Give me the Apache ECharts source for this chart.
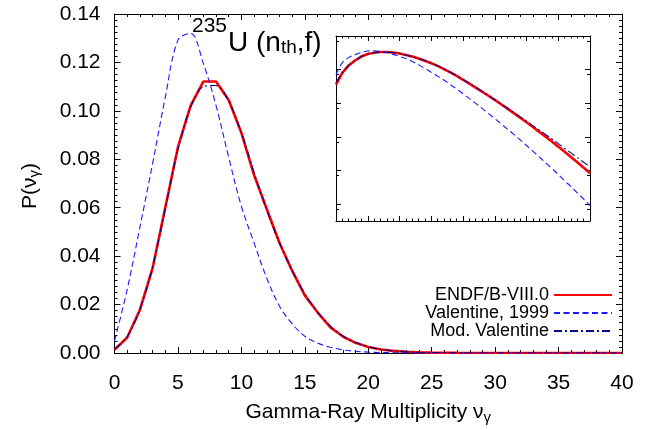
<!DOCTYPE html>
<html>
<head>
<meta charset="utf-8">
<script src="https://cdn.jsdelivr.net/npm/echarts@6.0.0/dist/echarts.min.js"></script>
<style>
  html, body { margin: 0; padding: 0; background: #fff; }
  #chart { width: 664px; height: 430px; }
</style>
</head>
<body>
<div id="chart"></div>
<script>
// multiplicity points 0..40
const nu = [0,1,2,3,4,5,6,7,8,9,10,11,12,13,14,15,16,17,18,19,20,
            21,22,23,24,25,26,27,28,29,30,31,32,33,34,35,36,37,38,39,40];

// ENDF/B-VIII.0
const endf = [0.0013,0.0064,0.0178,0.0350,0.0600,0.0850,0.1022,0.1121,0.1121,0.1045,0.0909,
              0.0735,0.0595,0.0455,0.0340,0.0238,0.0168,0.0107,0.0068,0.0042,0.0025,
              1.47e-3,8.6e-4,4.9e-4,2.8e-4,1.58e-4,8.8e-5,4.8e-5,2.6e-5,1.41e-5,7.5e-6,
              3.9e-6,2.0e-6,1.04e-6,5.3e-7,2.65e-7,1.31e-7,6.4e-8,3.1e-8,1.49e-8,7.0e-9];

// Valentine, 1999
const valentine = [0.0050,0.0262,0.0519,0.0781,0.1055,0.1292,0.1320,0.1196,0.1023,0.0808,0.0606,
                   0.0455,0.0309,0.0194,0.0121,0.0069,0.0041,0.0024,0.0013,0.0007,3.7e-4,
                   1.9e-4,9.8e-5,5.0e-5,2.5e-5,1.23e-5,6.0e-6,2.9e-6,1.4e-6,6.6e-7,3.1e-7,
                   1.43e-7,6.5e-8,2.95e-8,1.32e-8,5.8e-9,2.5e-9,1.1e-9,4.7e-10,2.0e-10,8.2e-11];

// Mod. Valentine
const modValentine = [0.0017,0.0068,0.0180,0.0355,0.0595,0.0840,0.1015,0.1100,0.1105,0.1040,0.0910,
                      0.0745,0.0590,0.0455,0.0340,0.0245,0.0170,0.0112,0.0070,0.0043,0.0026,
                      1.52e-3,8.9e-4,5.1e-4,2.9e-4,1.63e-4,9.1e-5,5.1e-5,2.8e-5,1.55e-5,8.6e-6,
                      4.7e-6,2.56e-6,1.39e-6,7.5e-7,4.0e-7,2.13e-7,1.13e-7,5.9e-8,3.1e-8,1.6e-8];

const names = ['ENDF/B-VIII.0', 'Valentine, 1999', 'Mod. Valentine'];

const FONT = 'Liberation Sans';
const pairs = arr => nu.map((x, i) => [x, arr[i]]);

const styles = [
  { color: '#ff0000', width: 2.6, type: 'solid', smooth: false },
  { color: '#1a1aff', width: 1.1, type: [6, 3.5], smooth: 0.35 },
  { color: '#00008b', width: 1.1, type: [8, 3, 2, 3], smooth: 0.35 }
];
const dataSets = [endf, valentine, modValentine];

function frameX(grid, pos, len, minorLen, extra) {
  return Object.assign({
    type: 'value', gridIndex: grid, position: pos, min: 0, max: 40, interval: 5,
    axisLine: { show: true, onZero: false, lineStyle: { color: '#000', width: 1 } },
    axisTick: { show: true, inside: true, length: len, lineStyle: { color: '#000' } },
    minorTick: { show: true, splitNumber: 5, length: minorLen, lineStyle: { color: '#000' } },
    axisLabel: { show: false },
    splitLine: { show: false }
  }, extra || {});
}

const myChart = echarts.init(document.getElementById('chart'), null, { renderer: 'canvas' });

let series = [];
[0, 2].forEach(function (ax) {
  dataSets.forEach(function (d, k) {
    series.push({
      name: names[k],
      type: 'line',
      xAxisIndex: ax,
      yAxisIndex: ax,
      data: pairs(d),
      symbol: 'none',
      smooth: styles[k].smooth,
      z: k === 0 ? 2 : 3,
      lineStyle: { color: styles[k].color, width: styles[k].width, type: styles[k].type },
      itemStyle: { color: styles[k].color }
    });
  });
});

const legendTops = [286, 304, 322];

let option = {
  animation: false,
  backgroundColor: '#fff',
  textStyle: { fontFamily: FONT },
  grid: [
    { left: 114.5, right: 42, top: 14, bottom: 71 },
    { left: 336, top: 36, width: 254, height: 185 }
  ],
  legend: names.map(function (n, i) {
    return {
      data: [n],
      orient: 'vertical',
      align: 'right',
      right: 51,
      top: legendTops[i],
      padding: 0,
      itemWidth: 58,
      itemHeight: 14,
      selectedMode: false,
      itemStyle: { opacity: 0, borderWidth: 0 },
      textStyle: { fontFamily: FONT, fontSize: 18, color: '#000', lineHeight: 18 }
    };
  }),
  graphic: [
    {
      type: 'text',
      left: 192,
      top: 16,
      style: {
        text: '{sup|235}{big|U (n}{sub|th}{big|,f)}',
        fill: '#000',
        rich: {
          sup: { fontFamily: FONT, fontSize: 21, padding: [0, 1, 33, 0] },
          big: { fontFamily: FONT, fontSize: 28 },
          sub: { fontFamily: FONT, fontSize: 19, padding: [9, 0, 0, 0] }
        }
      }
    },
    {
      type: 'text',
      x: 30,
      y: 186,
      rotation: Math.PI / 2,
      style: {
        text: '{m|P(ν}{sub|γ}{m|)}',
        fill: '#000',
        align: 'center',
        verticalAlign: 'middle',
        rich: {
          m: { fontFamily: FONT, fontSize: 21 },
          sub: { fontFamily: FONT, fontSize: 15, padding: [10, 0, 0, 0] }
        }
      }
    }
  ],
  xAxis: [
    frameX(0, 'bottom', 6, 3, {
      axisLabel: { show: true, color: '#000', fontSize: 21, margin: 20, fontFamily: FONT },
      name: 'Gamma-Ray Multiplicity ν{sub|γ}',
      nameLocation: 'middle',
      nameGap: 47,
      nameTextStyle: {
        color: '#000', fontSize: 21, fontFamily: FONT,
        rich: { sub: { fontSize: 15, fontFamily: FONT, padding: [10, 0, 0, 0] } }
      }
    }),
    frameX(0, 'top', 6, 3),
    frameX(1, 'bottom', 5, 2.5),
    frameX(1, 'top', 5, 2.5)
  ],
  yAxis: [
    {
      type: 'value', gridIndex: 0, position: 'left', min: 0, max: 0.14, interval: 0.02,
      axisLine: { show: true, onZero: false, lineStyle: { color: '#000', width: 1 } },
      axisTick: { show: true, inside: true, length: 6, lineStyle: { color: '#000' } },
      minorTick: { show: true, splitNumber: 8, length: 3, lineStyle: { color: '#000' } },
      axisLabel: {
        color: '#000', fontSize: 21, margin: 14, fontFamily: FONT,
        formatter: function (v) { return v.toFixed(2); }
      },
      splitLine: { show: false }
    },
    {
      type: 'value', gridIndex: 0, position: 'right', min: 0, max: 0.14, interval: 0.02,
      axisLine: { show: true, onZero: false, lineStyle: { color: '#000', width: 1 } },
      axisTick: { show: true, inside: true, length: 6, lineStyle: { color: '#000' } },
      minorTick: { show: true, splitNumber: 8, length: 3, lineStyle: { color: '#000' } },
      axisLabel: { show: false },
      splitLine: { show: false }
    },
    {
      type: 'log', logBase: 100, gridIndex: 1, position: 'left', min: 1e-11, max: 1,
      axisLine: { show: true, onZero: false, lineStyle: { color: '#000', width: 1 } },
      axisTick: { show: true, inside: true, length: 5, lineStyle: { color: '#000' } },
      minorTick: { show: true, splitNumber: 2, length: 3, lineStyle: { color: '#000' } },
      axisLabel: { show: false },
      splitLine: { show: false }
    },
    {
      type: 'log', logBase: 100, gridIndex: 1, position: 'right', min: 1e-11, max: 1,
      axisLine: { show: true, onZero: false, lineStyle: { color: '#000', width: 1 } },
      axisTick: { show: true, inside: true, length: 5, lineStyle: { color: '#000' } },
      minorTick: { show: true, splitNumber: 2, length: 3, lineStyle: { color: '#000' } },
      axisLabel: { show: false },
      splitLine: { show: false }
    }
  ],
  series: series
};

option && myChart.setOption(option);
</script>
</body>
</html>
